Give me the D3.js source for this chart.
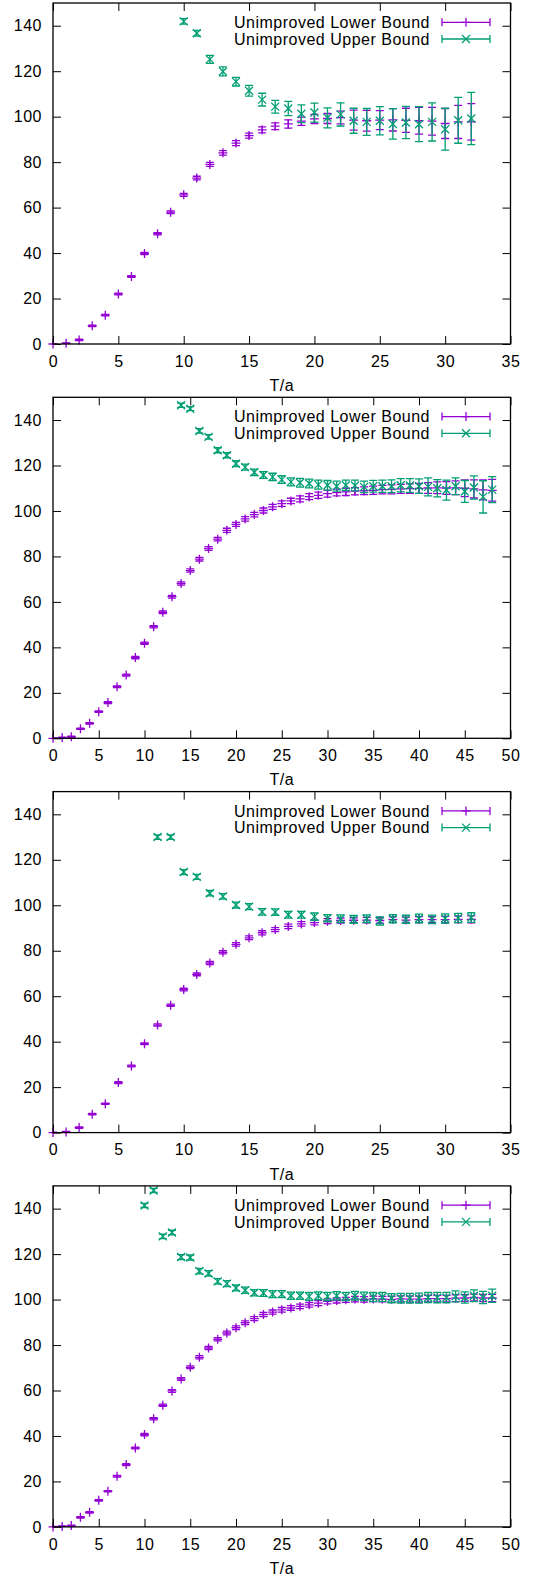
<!DOCTYPE html>
<html>
<head>
<meta charset="utf-8">
<script src="https://cdn.jsdelivr.net/npm/d3@7/dist/d3.min.js"></script>
<style>
  body { margin: 0; background: #fff; }
  text { font-family: "Liberation Sans", Arial, Helvetica, sans-serif; font-size: 16px; letter-spacing: 0.5px; fill: #000; }
</style>
</head>
<body>
<svg id="chart" width="537" height="1583"></svg>
<script>
// ---- data ----
const tShort = [0,1,2,3,4,5,6,7,8,9,10,11,12,13,14,15,16,17,18,19,20,21,22,23,24,25,26,27,28,29,30,31,32];
const tLong = [0,1,2,3,4,5,6,7,8,9,10,11,12,13,14,15,16,17,18,19,20,21,22,23,24,25,26,27,28,29,30,31,32,33,34,35,36,37,38,39,40,41,42,43,44,45,46,47,48];

const seriesNames = ["Unimproved Lower Bound", "Unimproved Upper Bound"];
const seriesColors = ["#9400d3", "#009e73"];

const xTicksShort = [0,5,10,15,20,25,30,35];
const xTicksLong = [0,5,10,15,20,25,30,35,40,45,50];
const yTicks = [0,20,40,60,80,100,120,140];

// panel 1
const lowerA = [0,0.3,1.8,8.0,12.7,22.0,29.7,39.8,48.5,58.0,65.6,73.0,79.0,84.1,88.4,91.7,94.2,95.8,96.8,98.0,99.0,99.2,99.6,98.5,98.2,98.5,98.6,98.4,98.2,98.0,97.0,97.7,97.7];
const lowerAErr = [0.2,0.2,0.3,0.3,0.3,0.4,0.4,0.5,0.5,0.6,0.7,0.8,0.9,1.0,1.1,1.1,1.3,1.5,1.8,1.8,2.0,2.2,2.8,4.4,4.6,4.2,4.9,5.3,5.9,6.1,6.6,7.3,8.0];
const upperA = [null,null,null,null,null,null,null,null,null,null,141.9,136.7,125.2,119.9,115.4,111.4,107.5,104.4,103.6,101.3,101.8,99.5,101.0,98.2,97.7,98.2,96.8,97.4,96.7,97.7,94.5,98.4,99.2];
const upperAErr = [null,null,null,null,null,null,null,null,null,null,1.2,1.3,1.8,2.0,1.9,2.4,2.8,2.8,3.1,3.9,4.2,4.4,5.1,5.5,5.9,6.2,6.7,7.1,7.7,8.4,9.2,10.1,11.5];

// panel 2
const lowerB = [0,0.3,0.7,4.2,6.6,11.7,15.7,22.7,27.8,35.5,41.8,49.1,55.4,62.3,68.1,73.8,78.8,83.5,87.6,91.5,94.1,96.5,98.4,100.2,101.8,103.2,104.4,105.3,106.3,106.9,107.6,108.1,108.4,108.7,108.9,109.1,109.4,109.5,109.7,109.8,109.9,110.1,110.2,110.1,110.2,110.0,109.7,109.3,109.1];
const lowerBErr = [0.2,0.2,0.3,0.3,0.3,0.3,0.4,0.4,0.4,0.5,0.5,0.5,0.6,0.6,0.7,0.7,0.8,0.8,0.8,0.9,0.9,1.0,1.0,1.1,1.1,1.2,1.2,1.3,1.3,1.4,1.5,1.5,1.6,1.6,1.7,1.8,1.9,2.0,2.0,2.1,2.2,2.4,2.6,2.8,3.0,3.7,4.0,4.4,4.8];
const upperB = [null,null,null,null,null,null,null,null,null,null,null,null,null,null,146.5,145.0,135.2,132.6,126.7,124.5,120.8,119.3,117.0,115.8,115.0,113.8,112.8,112.4,112.1,111.6,111.3,110.9,111.3,111.2,110.6,110.9,110.9,110.9,111.3,111.2,110.9,110.6,110.0,109.2,110.9,108.6,110.3,106.2,109.4];
const upperBErr = [null,null,null,null,null,null,null,null,null,null,null,null,null,null,0.9,0.9,1.0,1.0,1.1,1.1,1.3,1.3,1.4,1.5,1.6,1.7,1.8,1.9,1.9,2.0,2.1,2.2,2.3,2.4,2.5,2.6,2.7,2.8,2.9,3.0,3.2,4.0,3.8,4.4,3.7,4.8,5.1,7.1,5.7];

// panel 3
const lowerC = [0,0.3,2.2,8.1,12.7,22.0,29.3,39.1,47.3,56.0,62.9,69.6,74.6,79.3,82.8,85.7,87.9,89.3,90.7,91.8,92.4,93.0,93.3,93.4,93.5,93.3,93.7,93.5,93.7,93.7,93.7,93.8,93.8];
const lowerCErr = [0.2,0.2,0.3,0.3,0.3,0.4,0.4,0.4,0.5,0.5,0.6,0.6,0.7,0.7,0.8,0.8,0.9,0.9,1.0,1.0,1.0,1.1,1.1,1.1,1.2,1.2,1.2,1.3,1.3,1.3,1.4,1.4,1.5];
const upperC = [null,null,null,null,null,null,null,null,130.0,130.0,114.6,112.5,105.3,103.9,100.1,99.4,97.1,97.0,95.8,95.8,95.0,94.3,94.1,93.8,94.1,93.1,94.1,93.8,94.2,93.8,94.2,94.4,94.6];
const upperCErr = [null,null,null,null,null,null,null,null,1.0,1.0,1.1,1.1,1.2,1.2,1.3,1.3,1.4,1.4,1.5,1.5,1.6,1.6,1.7,1.7,1.7,1.8,1.8,1.8,1.9,1.9,2.0,2.0,2.1];

// panel 4
const lowerD = [0,0.2,0.6,4.2,6.4,11.7,15.7,22.3,27.4,34.7,40.6,47.6,53.5,59.8,65.1,70.2,74.6,78.7,82.5,85.3,87.6,89.8,91.6,93.4,94.5,95.5,96.3,97.0,97.7,98.4,99.2,99.6,99.9,100.2,100.1,100.3,100.2,100.1,100.3,100.2,100.2,100.4,100.4,100.4,100.6,100.7,100.9,100.7,100.7];
const lowerDErr = [0.2,0.2,0.2,0.3,0.3,0.3,0.3,0.4,0.4,0.4,0.5,0.5,0.5,0.6,0.6,0.6,0.7,0.7,0.7,0.8,0.8,0.8,0.9,0.9,0.9,1.0,1.0,1.0,1.0,1.1,1.1,1.1,1.1,1.2,1.2,1.2,1.2,1.3,1.3,1.3,1.3,1.4,1.4,1.4,1.5,1.5,1.5,1.6,1.6];
const upperD = [null,null,null,null,null,null,null,null,null,null,141.4,148.0,127.8,129.5,118.7,118.5,112.5,111.5,108.0,107.0,105.1,104.1,103.0,102.9,102.4,102.4,101.7,101.7,101.4,101.7,101.4,101.7,101.4,101.7,101.4,101.1,101.1,100.6,100.6,100.6,100.6,100.9,100.9,100.9,101.4,100.9,101.7,100.9,101.7];
const upperDErr = [null,null,null,null,null,null,null,null,null,null,0.9,0.9,1.0,1.0,1.1,1.1,1.2,1.2,1.2,1.3,1.3,1.4,1.4,1.5,1.5,1.5,1.6,1.6,1.7,1.7,1.8,1.8,1.8,1.9,1.9,2.0,2.0,2.0,2.1,2.1,2.2,2.2,2.3,2.3,2.4,2.5,2.6,2.7,2.9];

// ---- panels built from the arrays above ----
const panels = [
  { t: tShort, xMax: 35, xTicks: xTicksShort, series: [[lowerA, lowerAErr], [upperA, upperAErr]] },
  { t: tLong,  xMax: 50, xTicks: xTicksLong,  series: [[lowerB, lowerBErr], [upperB, upperBErr]] },
  { t: tShort, xMax: 35, xTicks: xTicksShort, series: [[lowerC, lowerCErr], [upperC, upperCErr]] },
  { t: tLong,  xMax: 50, xTicks: xTicksLong,  series: [[lowerD, lowerDErr], [upperD, upperDErr]] }
];

const layout = { left: 53, right: 510.5, top: 3, height: 341, step: 394.3 };
const yMax = 150;
const markerPaths = ["M-4.5,0H4.5M0,-4.5V4.5", "M-4,-4L4,4M-4,4L4,-4"];
const cap = 4;

const svg = d3.select("#chart");

panels.forEach((p, i) => {
  const g = svg.append("g")
    .attr("transform", `translate(0, ${layout.top + i * layout.step})`);

  const x = d3.scaleLinear().domain([0, p.xMax]).range([layout.left, layout.right]);
  const y = d3.scaleLinear().domain([0, yMax]).range([layout.height, 0]);

  // ticks (inward, mirrored like gnuplot)
  const axes = [
    [d3.axisBottom(x).tickValues(p.xTicks).tickSize(-8).tickPadding(11.3).tickFormat(d3.format("d")), `translate(0,${layout.height})`],
    [d3.axisTop(x).tickValues(p.xTicks).tickSize(-8).tickFormat(""), "translate(0,0)"],
    [d3.axisLeft(y).tickValues(yTicks).tickSize(-8).tickPadding(11).tickFormat(d3.format("d")), `translate(${layout.left},0)`],
    [d3.axisRight(y).tickValues(yTicks).tickSize(-8).tickFormat(""), `translate(${layout.right},0)`]
  ];
  axes.forEach(([ax, tr]) => {
    const a = g.append("g").attr("transform", tr).call(ax);
    a.select(".domain").remove();
    a.selectAll(".tick line").attr("stroke", "#000").attr("stroke-width", 1);
    a.selectAll(".tick text")
      .attr("fill", "#000")
      .style("font-family", '"Liberation Sans", Arial, Helvetica, sans-serif')
      .style("font-size", "16px");
  });

  // error bars are clipped to the plot box, markers are drawn whole when in range
  const clipId = `clip${i}`;
  g.append("clipPath").attr("id", clipId)
    .append("rect")
    .attr("x", layout.left).attr("y", 0)
    .attr("width", layout.right - layout.left).attr("height", layout.height);

  p.series.forEach(([vals, errs], s) => {
    const pts = p.t.map((t, k) => ({ t: t, v: vals[k], e: errs[k] }))
      .filter(d => d.v !== null && d.v <= yMax);

    const sg = g.append("g")
      .attr("stroke", seriesColors[s])
      .attr("stroke-width", 1.3)
      .attr("fill", "none");

    sg.append("g").attr("clip-path", `url(#${clipId})`)
      .selectAll("path")
      .data(pts)
      .enter()
      .append("path")
      .attr("d", d => {
        const cx = x(d.t), y1 = y(d.v - d.e), y2 = y(d.v + d.e);
        return `M${cx},${y1}V${y2}M${cx - cap},${y1}H${cx + cap}M${cx - cap},${y2}H${cx + cap}`;
      });

    sg.append("g")
      .selectAll("path")
      .data(pts)
      .enter()
      .append("path")
      .attr("transform", d => `translate(${x(d.t)},${y(d.v)})`)
      .attr("d", markerPaths[s]);
  });

  // border
  g.append("rect")
    .attr("x", layout.left).attr("y", 0)
    .attr("width", layout.right - layout.left).attr("height", layout.height)
    .attr("fill", "none").attr("stroke", "#000").attr("stroke-width", 1.3);

  // legend
  seriesNames.forEach((name, s) => {
    const ly = 19.3 + s * 16.7;
    g.append("text")
      .attr("x", 430).attr("y", ly + 5.7)
      .attr("text-anchor", "end")
      .text(name);
    const lg = g.append("g")
      .attr("stroke", seriesColors[s]).attr("stroke-width", 1.3).attr("fill", "none");
    lg.append("path")
      .attr("d", `M442,${ly}H490M442,${ly - cap}V${ly + cap}M490,${ly - cap}V${ly + cap}`);
    lg.append("path")
      .attr("transform", `translate(466,${ly})`)
      .attr("d", markerPaths[s]);
  });

  // x axis title
  g.append("text")
    .attr("x", (layout.left + layout.right) / 2)
    .attr("y", layout.height + 47)
    .attr("text-anchor", "middle")
    .text("T/a");
});
</script>
</body>
</html>
